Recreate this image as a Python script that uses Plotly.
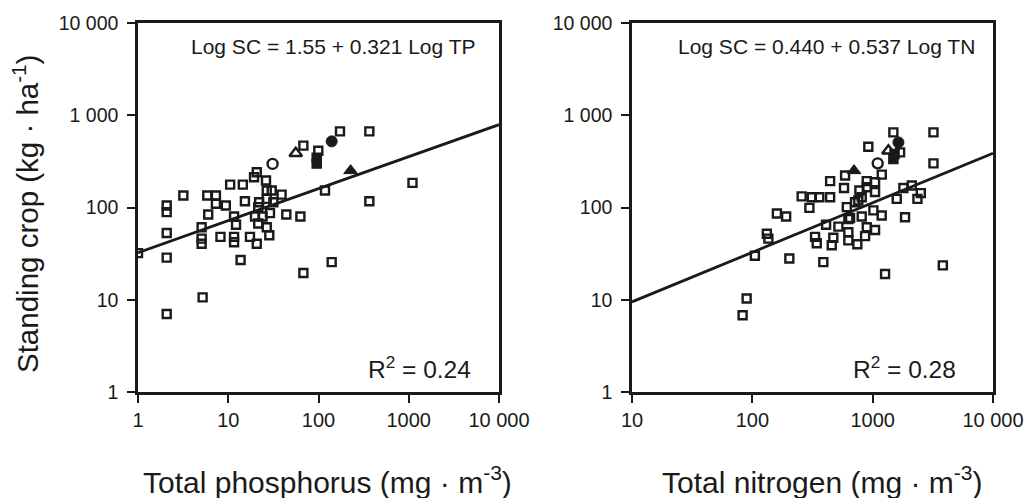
import numpy as np
import plotly.graph_objects as go

# ---------------- Data ----------------
# Left panel: total phosphorus (mg m-3) vs standing crop (kg ha-1)
tp_sq_x = [1.0, 2.08, 2.08, 2.08, 2.08, 2.08, 3.18, 5.86, 7.3, 6.0, 5.07, 5.07, 5.07, 5.2,
           7.3, 9.4, 10.5, 14.5, 15.3, 11.6, 12.2, 8.2, 11.6, 11.6, 13.7, 17.4, 20.7, 19.8,
           24, 29, 21.5, 26.7, 28.5, 21.5, 26.7, 30.3, 31.6, 26.7, 39, 20.7, 19.3, 26.2,
           44, 63, 118, 68, 140, 68, 99.5, 173, 366, 366, 1100, 22]
tp_sq_y = [32, 105, 89, 53, 28.6, 7.0, 135, 135, 135, 84, 61, 46, 40.5, 10.6,
           110, 105, 177, 177, 117, 80, 65, 48, 48, 42, 27, 48, 40.5, 80,
           80, 87, 67, 61, 50, 101, 124, 153, 114, 153, 138, 241, 213, 196,
           84, 80, 153, 19.5, 25.6, 468, 413, 668, 668, 117, 185, 114]
tp_fsq_x = [95.5, 95.5]
tp_fsq_y = [347, 299]
tp_otri_x = [56]
tp_otri_y = [387]
tp_ocir_x = [31]
tp_ocir_y = [297]
tp_fcir_x = [140]
tp_fcir_y = [521]
tp_ftri_x = [227]
tp_ftri_y = [251]
tp_line_intercept = 1.51   # drawn line, log10 units
tp_line_slope = 0.347

# Right panel: total nitrogen (mg m-3) vs standing crop (kg ha-1)
tn_sq_x = [1486, 3200, 3200, 920, 1690, 1190, 590, 443, 893, 1047, 578, 776, 1047, 257,
           360, 443, 312, 298, 160, 191, 1800, 2113, 2512, 1585, 2355, 1858, 610, 714,
           811, 1014, 1189, 811, 649, 519, 410, 893, 1047, 628, 865, 471, 332, 343,
           457, 628, 746, 132, 136, 105, 203, 389, 1268, 3828, 89.7, 83, 628, 760, 893]
tn_sq_y = [652, 652, 301, 456, 396, 227, 222, 193, 193, 188, 163, 153, 147, 132,
           129, 129, 129, 99, 86, 80, 163, 173, 143, 124, 124, 78.5, 101, 114,
           129, 93, 82, 80, 77, 62, 65, 61, 57, 54, 49, 47, 48, 41,
           39, 44, 40, 52, 46, 30, 28, 25.6, 19, 23.6, 10.3, 6.8, 75, 119, 166]
tn_fsq_x = [1486, 1520]
tn_fsq_y = [336, 380]
tn_otri_x = [1352]
tn_otri_y = [413]
tn_ocir_x = [1101]
tn_ocir_y = [301]
tn_fcir_x = [1637]
tn_fcir_y = [508]
tn_ftri_x = [700]
tn_ftri_y = [251]
tn_line_intercept = 0.440
tn_line_slope = 0.537

y_tickvals = [1, 10, 100, 1000, 10000]
y_ticktext = ["1", "10", "100", "1 000", "10 000"]
tp_tickvals = [1, 10, 100, 1000, 10000]
tp_ticktext = ["1", "10", "100", "1000", "10 000"]
tn_tickvals = [10, 100, 1000, 10000]
tn_ticktext = ["10", "100", "1000", "10 000"]

FONT = "Liberation Sans, Arial, Helvetica, sans-serif"
BLACK = "#1a1a1a"

fig = go.Figure()


def add_panel(xa, ya, sqx, sqy, fsqx, fsqy, otx, oty, ocx, ocy, fcx, fcy, ftx, fty,
              x0, x1, b0, b1):
    common = dict(xaxis=xa, yaxis=ya, mode="markers", showlegend=False, hoverinfo="x+y")
    # regression line
    lx = np.array([x0, x1], dtype=float)
    ly = 10 ** (b0 + b1 * np.log10(lx))
    fig.add_trace(go.Scatter(x=lx, y=ly, xaxis=xa, yaxis=ya, mode="lines",
                             line=dict(color=BLACK, width=2.8), showlegend=False,
                             hoverinfo="skip"))
    fig.add_trace(go.Scatter(x=sqx, y=sqy, marker=dict(symbol="square-open", size=8,
                             color=BLACK, line=dict(width=2.4, color=BLACK)), **common))
    fig.add_trace(go.Scatter(x=fsqx, y=fsqy, marker=dict(symbol="square", size=9,
                             color=BLACK, line=dict(width=1.5, color=BLACK)), **common))
    fig.add_trace(go.Scatter(x=otx, y=oty, marker=dict(symbol="triangle-up-open", size=11,
                             color=BLACK, line=dict(width=2.4, color=BLACK)), **common))
    fig.add_trace(go.Scatter(x=ocx, y=ocy, marker=dict(symbol="circle-open", size=10,
                             color=BLACK, line=dict(width=2.4, color=BLACK)), **common))
    fig.add_trace(go.Scatter(x=fcx, y=fcy, marker=dict(symbol="circle", size=11,
                             color=BLACK, line=dict(width=1, color=BLACK)), **common))
    fig.add_trace(go.Scatter(x=ftx, y=fty, marker=dict(symbol="triangle-up", size=12,
                             color=BLACK, line=dict(width=1, color=BLACK)), **common))


add_panel("x", "y", tp_sq_x, tp_sq_y, tp_fsq_x, tp_fsq_y, tp_otri_x, tp_otri_y,
          tp_ocir_x, tp_ocir_y, tp_fcir_x, tp_fcir_y, tp_ftri_x, tp_ftri_y,
          1, 10000, tp_line_intercept, tp_line_slope)
add_panel("x2", "y2", tn_sq_x, tn_sq_y, tn_fsq_x, tn_fsq_y, tn_otri_x, tn_otri_y,
          tn_ocir_x, tn_ocir_y, tn_fcir_x, tn_fcir_y, tn_ftri_x, tn_ftri_y,
          10, 10000, tn_line_intercept, tn_line_slope)

# The page body margin is removed (post_script below), so the figure fills the window.
W, H = 1035, 498


def fx(px):
    return px / W


def fy(py):
    return 1 - py / H


ydom = [fy(392), fy(23)]
axis_common = dict(type="log", showline=True, linewidth=2.5, linecolor=BLACK, mirror=True,
                   ticks="outside", ticklen=8, tickwidth=2, tickcolor=BLACK,
                   showgrid=False, zeroline=False, automargin=False)
xfont = dict(family=FONT, size=20, color=BLACK)
yfont = dict(family=FONT, size=19.5, color=BLACK)

fig.update_layout(
    width=W, height=H,
    margin=dict(l=0, r=0, t=0, b=0, pad=0, autoexpand=False),
    paper_bgcolor="white", plot_bgcolor="white",
    xaxis=dict(domain=[fx(138), fx(499)], range=[0, 4], tickvals=tp_tickvals,
               ticktext=tp_ticktext, anchor="y", ticklabelstandoff=0, tickfont=xfont,
               **axis_common),
    yaxis=dict(domain=ydom, range=[0, 4], tickvals=y_tickvals, ticktext=y_ticktext,
               anchor="x", ticklabelstandoff=5, tickfont=yfont, **axis_common),
    xaxis2=dict(domain=[fx(632), fx(993)], range=[1, 4], tickvals=tn_tickvals,
                ticktext=tn_ticktext, anchor="y2", ticklabelstandoff=0, tickfont=xfont,
                **axis_common),
    yaxis2=dict(domain=ydom, range=[0, 4], tickvals=y_tickvals, ticktext=y_ticktext,
                anchor="x2", ticklabelstandoff=5, tickfont=yfont, **axis_common),
)


def ann(text, px, py, size, angle=0):
    fig.add_annotation(text=text, xref="paper", yref="paper", x=fx(px), y=fy(py),
                       xanchor="center", yanchor="middle", showarrow=False,
                       textangle=angle, font=dict(family=FONT, size=size, color=BLACK))


ann("Log SC = 1.55 + 0.321 Log TP", 333, 47, 21)
ann("Log SC = 0.440 + 0.537 Log TN", 826, 47, 21)
ann("R<sup>2</sup> = 0.24", 419, 367, 24.5)
ann("R<sup>2</sup> = 0.28", 904, 367, 24.5)
ann("Total phosphorus (mg · m<sup>-3</sup>)", 327, 480, 30)
ann("Total nitrogen (mg · m<sup>-3</sup>)", 822, 480, 30)
ann("Standing crop (kg · ha<sup>-1</sup>)", 25, 214, 29.5, angle=-90)

fig.write_html("out.html", config={"responsive": False, "displayModeBar": False},
               post_script="document.body.style.margin='0';"
                           "document.body.style.overflow='hidden';")
